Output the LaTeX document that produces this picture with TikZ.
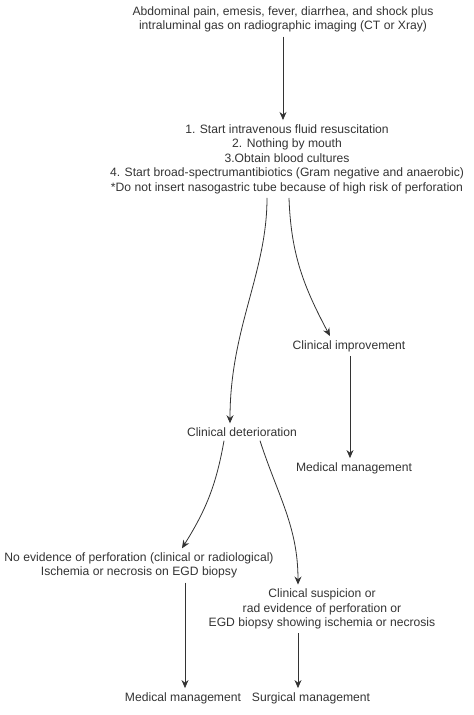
\documentclass[tikz,border=0pt]{standalone}
\usepackage{fontspec}
\setmainfont{Liberation Sans}
\usetikzlibrary{arrows.meta,positioning,calc}

\begin{document}
\begin{tikzpicture}[
  x=0.75pt, y=-0.75pt,
  txt/.style={font=\fontsize{9.1}{10.9}\selectfont, align=center, text=black!80,
              inner sep=3pt},
  link/.style={-{Stealth[length=6pt,width=5.2pt]}, black!80, semithick}
]
  \useasboundingbox (0,0) rectangle (474,715);

  \node[txt] (start)   at (283,19.5) {Abdominal pain, emesis, fever, diarrhea, and shock plus\\
                                       intraluminal gas on radiographic imaging (CT or Xray)};
  \node[txt] (care)    at (287,159)  {1. Start intravenous fluid resuscitation\\
                                       2. Nothing by mouth\\
                                       3.Obtain blood cultures\\
                                       4. Start broad-spectrumantibiotics (Gram negative and anaerobic)\\
                                       *Do not insert nasogastric tube because of high risk of perforation};
  \node[txt] (better)  at (349,346)  {Clinical improvement};
  \node[txt] (medR)    at (354,468)  {Medical management};
  \node[txt] (worse)   at (242,432)  {Clinical deterioration};
  \node[txt] (noperf)  at (139,565.5){No evidence of perforation (clinical or radiological)\\
                                       Ischemia or necrosis on EGD biopsy};
  \node[txt] (perf)    at (322,609)  {Clinical suspicion or\\
                                       rad evidence of perforation or\\
                                       EGD biopsy showing ischemia or necrosis};
  \node[txt] (medB)    at (183,698)  {Medical management};
  \node[txt] (surg)    at (311,698)  {Surgical management};

  \draw[link] (start.south) -- (start.south |- care.north);
  \draw[link] ($(care.south)+(-20,0)$) .. controls +(0,75) and +(0,-95) .. ($(worse.north)+(-12,0)$);
  \draw[link] ($(care.south)+(2,0)$) to[out=-88, in=118] ($(better.north)+(-19,0)$);
  \draw[link] ($(better.south)+(1,0)$) -- ($(better.south |- medR.north)+(1,0)$);
  \draw[link] ($(worse.south)+(-18,0)$) to[out=-100, in=58] ($(noperf.north)+(43,0)$);
  \draw[link] ($(worse.south)+(18,0)$) to[out=-72, in=90] ($(perf.north)+(-24,0)$);
  \draw[link] ($(noperf.south)+(46,0)$) -- ($(medB.north)+(2,0)$);
  \draw[link] ($(perf.south)+(-24,0)$) -- ($(perf.south |- surg.north)+(-24,0)$);
\end{tikzpicture}
\end{document}
